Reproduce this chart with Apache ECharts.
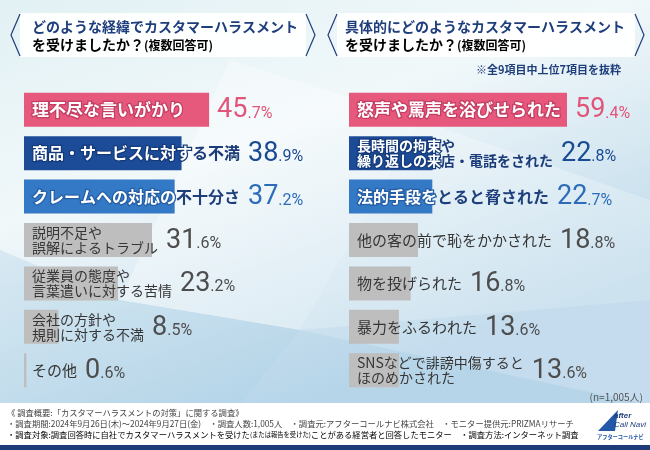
<!DOCTYPE html>
<html><head><meta charset="utf-8">
<script src="https://cdn.jsdelivr.net/npm/echarts@6/dist/echarts.min.js"></script>
<style>html,body{margin:0;padding:0;background:#fff;} #c{width:650px;height:450px;}</style>
</head><body><div id="c"></div>
<script>
// ---------- data ----------
const leftCategories = ['理不尽な言いがかり','商品・サービスに対する不満','クレームへの対応の不十分さ','説明不足や\n誤解によるトラブル','従業員の態度や\n言葉遣いに対する苦情','会社の方針や\n規則に対する不満','その他'];
const leftValues = [45.7, 38.9, 37.2, 31.6, 23.2, 8.5, 0.6];
const rightCategories = ['怒声や罵声を浴びせられた','長時間の拘束や\n繰り返しの来店・電話をされた','法的手段をとると脅された','他の客の前で恥をかかされた','物を投げられた','暴力をふるわれた','SNSなどで誹謗中傷すると\nほのめかされた'];
const rightValues = [59.4, 22.8, 22.7, 18.8, 16.8, 13.6, 13.6];
const leftTitle = ['どのような経緯でカスタマーハラスメント', 'を受けましたか？', '(複数回答可)'];
const rightTitle = ['具体的にどのようなカスタマーハラスメント', 'を受けましたか？', '(複数回答可)'];
const rightNote = '※全9項目中上位7項目を抜粋';
const sampleNote = '(n=1,005人)';
const footerLine1 = '《 調査概要:「カスタマーハラスメントの対策」に関する調査》';
const footerLine2 = '・調査期間:2024年9月26日(木)～2024年9月27日(金)　・調査人数:1,005人　・調査元:アフターコールナビ株式会社　・モニター提供元:PRIZMAリサーチ';
const footerLine3a = '・調査対象:調査回答時に自社でカスタマーハラスメントを受けた';
const footerLine3b = '(または報告を受けた)';
const footerLine3c = 'ことがある経営者と回答したモニター　・調査方法:インターネット調査';

// ---------- styles ----------
const JP = '"Noto Sans CJK JP", "Noto Sans", sans-serif';
const NUM = 'Roboto, "Liberation Sans", sans-serif';
const NAVY = '#1F3E7C';
const PAD = 8, GAP = 8;
const theme = [
  {bar:'#E6587C', fill:'#fff', border:'#C53E63', out:'#C53E63', val:'#E2557A', bold:true},
  {bar:'#1C4C98', fill:'#fff', border:'#143A7A', out:'#1B3C78', val:'#1B4A94', bold:true},
  {bar:'#3479C5', fill:'#fff', border:'#245FA6', out:'#1E3F7B', val:'#2C6CB9', bold:true},
  {bar:'#BEBEBE', fill:'#363636', border:null, out:'#363636', val:'#4D4D4D', bold:false}
];
const tier = i => Math.min(i, 3);
const fontSize = (i, lines) => lines > 1 ? 14 : (i === 0 ? 17 : (i < 3 ? 16 : 15));

const panels = [
  {cats:leftCategories, vals:leftValues, left:24, width:283.5, max:70},
  {cats:rightCategories, vals:rightValues, left:349, width:293.6, max:80}
];

const ctx = document.createElement('canvas').getContext('2d');
function measure(str, fs, bold) {
  ctx.font = (bold ? 'bold ' : '') + fs + 'px ' + JP;
  return ctx.measureText(str).width;
}

// rich styles for name labels
const nameRich = {};
[0,1,2,3].forEach(t => {
  [14,15,16,17].forEach(fs => {
    const th = theme[t];
    const base = {fontFamily: JP, fontSize: fs, fontWeight: th.bold ? 'bold' : 'normal', lineHeight: fs + 1};
    nameRich['i' + t + '_' + fs] = Object.assign({}, base, {color: th.fill},
      th.border ? {textBorderColor: th.border, textBorderWidth: 2.5} : {});
    nameRich['o' + t + '_' + fs] = Object.assign({}, base, {color: th.out});
  });
});
const valRich = {};
[0,1,2,3].forEach(t => {
  valRich['B' + t] = {fontFamily: NUM, fontSize: 27, lineHeight: 28, color: theme[t].val};
  valRich['s' + t] = {fontFamily: NUM, fontSize: 16, lineHeight: 20, color: theme[t].val, verticalAlign: 'bottom', padding: [0, 0, 3, 0]};
});

function buildSeries(p, idx) {
  const pxPerUnit = p.width / p.max;
  const barData = [], valData = [];
  p.vals.forEach((v, i) => {
    const t = tier(i);
    const lines = p.cats[i].split('\n');
    const fs = fontSize(i, lines.length);
    const bold = theme[t].bold;
    const barPx = v * pxPerUnit;
    let maxW = 0;
    const parts = lines.map(line => {
      let cum = 0, inside = '', outside = '';
      for (const ch of line) {
        const w = measure(ch, fs, bold);
        if (PAD + cum < barPx - 3) inside += ch; else outside += ch;
        cum += w;
      }
      maxW = Math.max(maxW, measure(line, fs, bold));
      let s = '';
      if (inside) s += '{i' + t + '_' + fs + '|' + inside + '}';
      if (outside) s += '{o' + t + '_' + fs + '|' + outside + '}';
      return s;
    });
    const labelText = parts.join('\n');
    barData.push({value: v, itemStyle: {color: theme[t].bar}, label: {formatter: labelText}});
    const str = v.toFixed(1);
    const dot = str.indexOf('.');
    const vText = '{B' + t + '|' + str.slice(0, dot) + '}{s' + t + '|' + str.slice(dot) + '%}';
    const dx = Math.max(PAD + maxW, barPx) + GAP;
    valData.push({value: v, label: {formatter: vText, offset: [dx, 1]}});
  });
  return [
    {type:'bar', xAxisIndex:idx, yAxisIndex:idx, barWidth:34, data:barData, silent:true,
     label:{show:true, position:'insideLeft', distance:PAD, rich:nameRich}},
    {type:'bar', xAxisIndex:idx, yAxisIndex:idx, barWidth:34, barGap:'-100%', data:valData, silent:true,
     itemStyle:{color:'rgba(0,0,0,0)'}, z:5,
     label:{show:true, position:'insideLeft', distance:0, rich:valRich}}
  ];
}

const series = [].concat(buildSeries(panels[0], 0), buildSeries(panels[1], 1));

// ---------- decorative graphics ----------
function banner(x0, x1) {
  return [
    {type:'rect', shape:{x:x0 + 10, y:13, width:x1 - x0 - 20, height:44}, style:{fill:'rgba(255,255,255,0.95)'}},
    {type:'polyline', shape:{points:[[x0 + 10, 14],[x0 + 1, 35],[x0 + 10, 56]]}, style:{stroke:NAVY, lineWidth:1.2, fill:null}},
    {type:'polyline', shape:{points:[[x1 - 10, 14],[x1 - 1, 35],[x1 - 10, 56]]}, style:{stroke:NAVY, lineWidth:1.2, fill:null}}
  ];
}
function titleTexts(lines, x) {
  return [
    {type:'text', x:x, y:27, style:{text:lines[0], fontFamily:JP, fontSize:14, fontWeight:'bold', fill:NAVY, verticalAlign:'middle'}},
    {type:'text', x:x, y:45, style:{text:'{a|' + lines[1] + '}{b|' + lines[2] + '}', verticalAlign:'middle',
      rich:{a:{fontFamily:JP, fontSize:14, fontWeight:'bold', color:NAVY}, b:{fontFamily:JP, fontSize:12, fontWeight:'bold', color:NAVY}}}}
  ];
}
const bgPolys = [
  {type:'polygon', shape:{points:[[0,250],[120,300],[0,400]]}, style:{fill:'rgba(150,195,225,0.25)'}},
  {type:'polygon', shape:{points:[[120,300],[300,330],[240,405],[0,405],[0,400]]}, style:{fill:'rgba(140,190,222,0.22)'}},
  {type:'polygon', shape:{points:[[230,60],[420,120],[300,330],[120,300]]}, style:{fill:'rgba(255,255,255,0.35)'}},
  {type:'polygon', shape:{points:[[420,120],[650,200],[650,405],[300,330]]}, style:{fill:'rgba(255,255,255,0.25)'}},
  {type:'polygon', shape:{points:[[300,330],[650,300],[650,405],[240,405]]}, style:{fill:'rgba(160,200,228,0.2)'}}
];
const FS = 8.3;
const footer = [
  {type:'rect', shape:{x:0, y:403, width:650, height:42}, style:{fill:'#ffffff'}},
  {type:'rect', shape:{x:0, y:445, width:650, height:5}, style:{fill:'#1D3C78'}},
  {type:'text', x:7, y:413, style:{text:footerLine1, fontFamily:JP, fontSize:FS, fill:'#444', verticalAlign:'middle'}},
  {type:'text', x:7, y:424, style:{text:footerLine2, fontFamily:JP, fontSize:FS, fill:'#444', verticalAlign:'middle'}},
  {type:'text', x:7, y:435, style:{text:'{a|' + footerLine3a + '}{b|' + footerLine3b + '}{a|' + footerLine3c + '}', verticalAlign:'middle',
    rich:{a:{fontFamily:JP, fontSize:FS, color:'#444'}, b:{fontFamily:JP, fontSize:6.3, color:'#444'}}}},
  {type:'polygon', shape:{points:[[598,431],[618,410],[615,431]]}, style:{fill:'#2357A8'}},
  {type:'text', x:614, y:416, style:{text:'after', fontFamily:'"Liberation Sans", sans-serif', fontStyle:'italic', fontWeight:'bold', fontSize:8, fill:NAVY, verticalAlign:'middle'}},
  {type:'text', x:614, y:425, style:{text:'Call Navi', fontFamily:'"Liberation Sans", sans-serif', fontStyle:'italic', fontSize:8, fill:NAVY, verticalAlign:'middle'}},
  {type:'text', x:597, y:437, style:{text:'アフターコールナビ', fontFamily:JP, fontWeight:'bold', fontSize:5.2, fill:'#2357A8', verticalAlign:'middle'}}
];

const graphic = [].concat(
  bgPolys.map(g => Object.assign({silent:true, z:-10}, g)),
  banner(10, 316), banner(327, 645),
  titleTexts(leftTitle, 32), titleTexts(rightTitle, 345),
  [{type:'text', x:621, y:70, style:{text:rightNote, fontFamily:JP, fontSize:11, fontWeight:'bold', fill:NAVY, align:'right', verticalAlign:'middle'}},
   {type:'text', x:643, y:397, style:{text:sampleNote, fontFamily:JP, fontSize:10, fill:'#555', align:'right', verticalAlign:'middle'}}],
  footer
);

const chart = echarts.init(document.getElementById('c'), null, {renderer:'canvas'});
chart.setOption({
  animation:false,
  backgroundColor: new echarts.graphic.LinearGradient(0, 0, 0.25, 1, [
    {offset:0, color:'#E2F1F4'}, {offset:0.45, color:'#F1F8FA'}, {offset:1, color:'#BDD9EA'}
  ]),
  grid:[
    {left:panels[0].left, top:88, width:panels[0].width, height:304},
    {left:panels[1].left, top:88, width:panels[1].width, height:304}
  ],
  xAxis:[
    {type:'value', gridIndex:0, min:0, max:panels[0].max, show:false},
    {type:'value', gridIndex:1, min:0, max:panels[1].max, show:false}
  ],
  yAxis:[
    {type:'category', gridIndex:0, data:leftCategories, inverse:true, show:false},
    {type:'category', gridIndex:1, data:rightCategories, inverse:true, show:false}
  ],
  graphic: graphic,
  series: series
});
</script>
</body></html>
